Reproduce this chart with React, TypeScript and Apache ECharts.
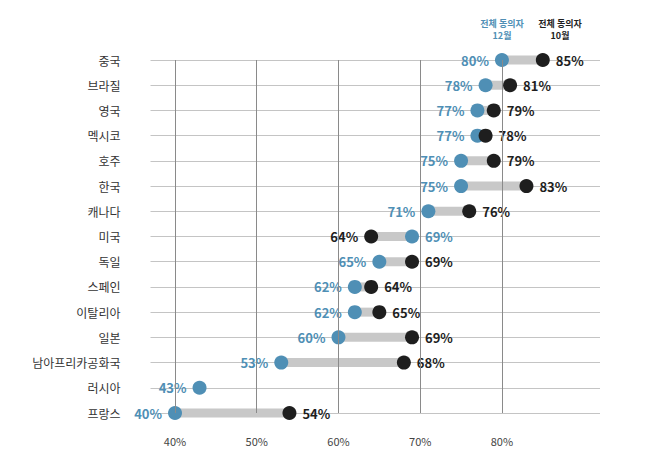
import React, { useRef, useEffect } from "react";
import * as echarts from "echarts";

const countries = ["중국", "브라질", "영국", "멕시코", "호주", "한국", "캐나다", "미국", "독일", "스페인", "이탈리아", "일본", "남아프리카공화국", "러시아", "프랑스"];
const december = [80, 78, 77, 77, 75, 75, 71, 69, 65, 62, 62, 60, 53, 43, 40];
const october: (number | null)[] = [85, 81, 79, 78, 79, 83, 76, 64, 69, 64, 65, 69, 68, null, 54];
const tickLabels = [40, 50, 60, 70, 80];

const BLUE = "#4f8fb5";
const BLACK = "#1e1e1e";
const FONT = "'Noto Sans CJK KR', 'Noto Sans', sans-serif";

export default function App() {
  const ref = useRef<HTMLDivElement>(null);

  useEffect(() => {
    if (!ref.current) return;
    const chart = echarts.init(ref.current, null, { renderer: "svg" });

    const lows = december.map((d, i) => Math.min(d, october[i] ?? d));
    const spans = december.map((d, i) => Math.abs((october[i] ?? d) - d));

    const label = (left: boolean, color: string) => ({
      show: true,
      position: left ? "left" : "right",
      distance: 6,
      formatter: "{@[0]}%",
      color,
      fontSize: 13,
      fontWeight: "bold" as const,
      fontFamily: FONT,
    });

    chart.setOption({
      animation: false,
      textStyle: { fontFamily: FONT },
      grid: { left: 142.5, right: 55, top: 52, bottom: 36 },
      xAxis: {
        type: "value",
        min: 37,
        max: 92,
        interval: 1,
        axisLine: { show: false },
        axisTick: { show: false },
        splitLine: { show: false },
        axisLabel: {
          margin: 22,
          color: "#444",
          fontSize: 11,
          formatter: (v: number) => (tickLabels.includes(v) ? v + "%" : ""),
        },
      },
      yAxis: {
        type: "category",
        data: countries,
        inverse: true,
        boundaryGap: false,
        axisLine: { show: false },
        axisTick: { show: false },
        axisLabel: { margin: 30, color: "#333", fontSize: 12 },
        splitLine: { show: true, lineStyle: { color: "#c4c4c4", width: 1 } },
      },
      graphic: [
        { type: "text", x: 494, y: 9, style: { text: "전체 동의자\n12월", fill: BLUE, font: `bold 9px ${FONT}`, align: "center", lineHeight: 12 } },
        { type: "text", x: 552, y: 9, style: { text: "전체 동의자\n10월", fill: BLACK, font: `bold 9px ${FONT}`, align: "center", lineHeight: 12 } },
      ],
      series: [
        {
          type: "bar",
          stack: "s",
          data: lows,
          barWidth: 9,
          itemStyle: { color: "transparent" },
          silent: true,
          markLine: {
            symbol: "none",
            silent: true,
            label: { show: false },
            lineStyle: { color: "#8a8a8a", type: "solid", width: 1 },
            data: tickLabels.map((t) => ({ xAxis: t })),
          },
        },
        {
          type: "bar",
          stack: "s",
          data: spans,
          barWidth: 9,
          itemStyle: { color: "#c8c8c8" },
        },
        {
          type: "scatter",
          symbolSize: 14,
          itemStyle: { color: BLUE, opacity: 1 },
          z: 3,
          data: december.map((d, i) => ({
            value: [d, countries[i]],
            label: label(october[i] == null || d <= (october[i] as number), BLUE),
          })),
        },
        {
          type: "scatter",
          symbolSize: 14,
          itemStyle: { color: BLACK, opacity: 1 },
          z: 4,
          data: october.map((o, i) =>
            o == null
              ? { value: [null, countries[i]] }
              : { value: [o, countries[i]], label: label(o < december[i], BLACK) }
          ),
        },
      ],
    });

    return () => chart.dispose();
  }, []);

  return <div ref={ref} style={{ width: 647, height: 441 }} />;
}
